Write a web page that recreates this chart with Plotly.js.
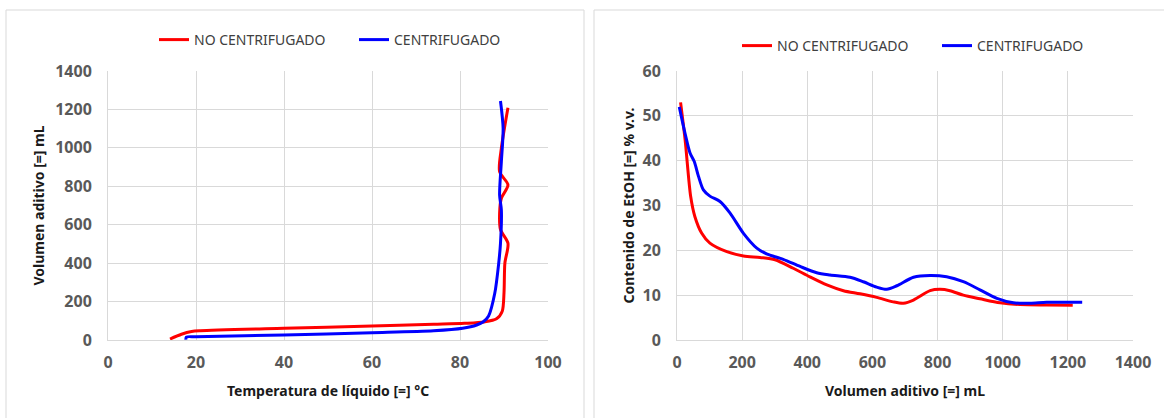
<!DOCTYPE html>
<html>
<head>
<meta charset="utf-8">
<script src="https://cdn.plot.ly/plotly-3.0.1.min.js"></script>
<style>html,body{margin:0;padding:0;background:#fff;overflow:hidden;}#chart{width:1164px;height:418px;}</style>
</head>
<body>
<div id="chart"></div>
<script>
// ---- Series names ----
const seriesNames = ["NO CENTRIFUGADO", "CENTRIFUGADO"];

// ---- Left chart: Temperatura de líquido (°C) vs Volumen aditivo (mL) ----
const tempNoCentr = [14.1, 16.7, 19, 21, 40, 60, 74, 81, 85.5, 88.3, 89.6, 90, 90.2, 90.9, 89.2, 89, 89.4, 90.9, 89, 89.4, 90.9];
const volTempNoCentr = [5, 30, 44, 48, 61, 73, 82, 87, 94, 110, 150, 245, 400, 503, 575, 660, 738, 807, 876, 998, 1209];

const tempCentr = [17.7, 17.8, 20, 40, 60, 74, 80.6, 83.8, 85.3, 86.5, 87.9, 88.8, 89.2, 89.4, 89, 89.4, 89.8, 89.2];
const volTempCentr = [2, 15, 17, 26, 38, 48, 61, 78, 95, 125, 243, 400, 503, 677, 755, 928, 1102, 1244];

// ---- Right chart: Volumen aditivo (mL) vs Contenido de EtOH (% v.v.) ----
const volNoCentr = [11, 25, 42, 55, 76, 101, 153, 204, 255, 301, 357, 408, 460, 511, 562, 613, 664, 695, 726, 777, 807, 838, 879, 930, 992, 1053, 1135, 1215];
const etohNoCentr = [53, 44.6, 32, 27.5, 23.8, 21.6, 19.7, 18.75, 18.4, 17.9, 16, 14.1, 12.3, 11, 10.3, 9.5, 8.5, 8.2, 8.9, 11, 11.3, 11, 10, 9.2, 8.3, 7.9, 7.8, 7.75];

const volCentr = [7, 25, 40, 53, 66, 81, 101, 132, 163, 204, 245, 275, 326, 378, 429, 470, 531, 572, 613, 644, 675, 726, 777, 828, 879, 930, 982, 1033, 1084, 1135, 1244];
const etohCentr = [52, 46, 41.7, 39.8, 36.5, 33.5, 32.1, 30.9, 28.3, 23.8, 20.5, 19.2, 18, 16.4, 15, 14.5, 14, 13, 11.8, 11.3, 12.1, 14, 14.4, 14.1, 13, 11.2, 9.3, 8.3, 8.2, 8.4, 8.4];

// ---- Axis ticks ----
const tempTicks = [0, 20, 40, 60, 80, 100];
const volTicks = [0, 200, 400, 600, 800, 1000, 1200, 1400];
const etohTicks = [0, 10, 20, 30, 40, 50, 60];

// ---- Titles ----
const leftXTitle = "Temperatura de líquido [=] °C";
const leftYTitle = "Volumen aditivo [=] mL";
const rightXTitle = "Volumen aditivo [=] mL";
const rightYTitle = "Contenido de EtOH [=] % v.v.";

const W = 1164, H = 418;
const FONT = "Noto Sans, Open Sans, sans-serif";
const RED = "#ff0000", BLUE = "#0000ff";
const px = v => v / W;
const py = v => 1 - v / H;

const lineStyle = c => ({color: c, width: 3, shape: "spline", smoothing: 0.8});

const traces = [
  {x: tempNoCentr, y: volTempNoCentr, mode: "lines", name: seriesNames[0], line: lineStyle(RED), xaxis: "x", yaxis: "y", legend: "legend"},
  {x: tempCentr, y: volTempCentr, mode: "lines", name: seriesNames[1], line: lineStyle(BLUE), xaxis: "x", yaxis: "y", legend: "legend"},
  {x: volNoCentr, y: etohNoCentr, mode: "lines", name: seriesNames[0], line: lineStyle(RED), xaxis: "x2", yaxis: "y2", legend: "legend2"},
  {x: volCentr, y: etohCentr, mode: "lines", name: seriesNames[1], line: lineStyle(BLUE), xaxis: "x2", yaxis: "y2", legend: "legend2"}
];

const tickFont = {family: FONT, size: 16, color: "#595959", weight: "bold"};
const axisBase = {
  showgrid: true, gridcolor: "#d9d9d9", gridwidth: 1,
  showline: true, linecolor: "#d9d9d9", linewidth: 1,
  zeroline: false, ticks: "", tickfont: tickFont, fixedrange: true, automargin: false
};
const yDomain = [py(340), py(71)];

const legendBase = {
  orientation: "h", xanchor: "left", yanchor: "middle",
  xref: "container", yref: "container",
  font: {family: FONT, size: 14, color: "#404040"},
  bgcolor: "rgba(0,0,0,0)", entrywidth: 155, entrywidthmode: "pixels",
  itemclick: false, itemdoubleclick: false
};

const titleFont = {family: FONT, size: 14, color: "#1a1a1a", weight: "bold"};

const layout = {
  width: W, height: H,
  margin: {l: 0, r: 0, t: 0, b: 0, autoexpand: false},
  paper_bgcolor: "#ffffff", plot_bgcolor: "#ffffff",
  showlegend: true,
  xaxis: Object.assign({}, axisBase, {domain: [px(108), px(548)], range: [0, 100], tickvals: tempTicks, anchor: "y", ticklabelstandoff: 8}),
  yaxis: Object.assign({}, axisBase, {domain: yDomain, range: [0, 1400], tickvals: volTicks, anchor: "x", ticklabelstandoff: 12}),
  xaxis2: Object.assign({}, axisBase, {domain: [px(677), px(1133)], range: [0, 1400], tickvals: volTicks, anchor: "y2", ticklabelstandoff: 8}),
  yaxis2: Object.assign({}, axisBase, {domain: yDomain, range: [0, 60], tickvals: etohTicks, anchor: "x2", ticklabelstandoff: 12}),
  legend: Object.assign({}, legendBase, {x: px(154), y: py(40)}),
  legend2: Object.assign({}, legendBase, {x: px(737), y: py(46)}),
  shapes: [
    {type: "rect", xref: "paper", yref: "paper", x0: px(6), x1: px(584), y0: -0.2, y1: py(10), line: {color: "#d9d9d9", width: 1}, fillcolor: "rgba(0,0,0,0)", layer: "below"},
    {type: "rect", xref: "paper", yref: "paper", x0: px(594), x1: 1.2, y0: -0.2, y1: py(10), line: {color: "#d9d9d9", width: 1}, fillcolor: "rgba(0,0,0,0)", layer: "below"}
  ],
  annotations: [
    {text: leftXTitle, xref: "paper", yref: "paper", x: px(328), y: py(390), xanchor: "center", yanchor: "middle", showarrow: false, font: titleFont},
    {text: leftYTitle, xref: "paper", yref: "paper", x: px(38), y: py(205.5), xanchor: "center", yanchor: "middle", textangle: -90, showarrow: false, font: titleFont},
    {text: rightXTitle, xref: "paper", yref: "paper", x: px(905), y: py(390), xanchor: "center", yanchor: "middle", showarrow: false, font: titleFont},
    {text: rightYTitle, xref: "paper", yref: "paper", x: px(628), y: py(205.5), xanchor: "center", yanchor: "middle", textangle: -90, showarrow: false, font: titleFont}
  ]
};

Plotly.newPlot("chart", traces, layout, {displayModeBar: false, staticPlot: true});
</script>
</body>
</html>
